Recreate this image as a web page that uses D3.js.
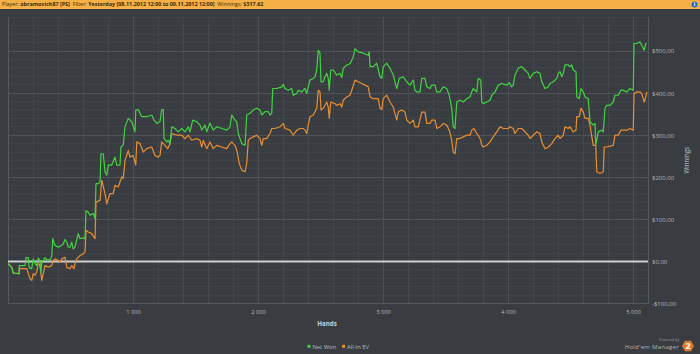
<!DOCTYPE html>
<html lang="en">
<head>
    <meta charset="utf-8">
    <title>Winnings graph</title>
    <script src="https://d3js.org/d3.v7.min.js"></script>
    <style>
      body { margin: 0; background: #393c40; }
      text { font-family: "Open Sans", "DejaVu Sans", sans-serif; }
      .grid line, .frame { shape-rendering: crispEdges; }
    </style>
</head>
<body>
<svg id="chart"></svg>
<script>
    // Net Won: [hand, dollars]
    const netWon = [
        [0, -5], [30, -14], [42, -28], [88, -29], [90, -10], [136, -10], [144, 9], [162, 9], [170, -15], [190, -17],
        [202, 6], [216, -5], [230, -10], [242, 8], [256, 2], [262, -27], [270, -5], [282, 2], [296, 9], [310, 4], [336, 4],
        [350, 12], [358, 54], [376, 38], [402, 34], [430, 38], [442, 42], [456, 52], [470, 46], [482, 34], [496, 34],
        [510, 46], [522, 30], [536, 34], [550, 52], [562, 66], [576, 54], [602, 56], [616, 54], [624, 121], [642, 117],
        [656, 110], [682, 114], [696, 102], [704, 185], [722, 185], [736, 189], [744, 256], [762, 256], [776, 213],
        [790, 205], [802, 229], [830, 229], [856, 248], [870, 229], [896, 229], [904, 272], [922, 276], [936, 320],
        [962, 340], [990, 332], [1016, 308], [1022, 360], [1042, 361], [1070, 344], [1110, 344], [1150, 348], [1168, 336],
        [1190, 328], [1216, 332], [1230, 361], [1242, 361], [1248, 292], [1270, 284], [1282, 288], [1296, 280],
        [1310, 320], [1336, 316], [1362, 308], [1390, 316], [1416, 308], [1442, 320], [1456, 308], [1478, 336],
        [1510, 332], [1536, 324], [1550, 312], [1576, 324], [1590, 308], [1616, 329], [1642, 312], [1670, 320],
        [1710, 316], [1750, 312], [1776, 320], [1790, 348], [1816, 336], [1830, 332], [1842, 304], [1870, 280],
        [1896, 276], [1910, 348], [1936, 352], [1962, 360], [1990, 364], [2016, 360], [2030, 348], [2056, 356],
        [2082, 356], [2096, 348], [2110, 352], [2118, 411], [2150, 411], [2190, 415], [2202, 421], [2216, 411],
        [2242, 407], [2270, 411], [2282, 395], [2310, 399], [2322, 407], [2350, 403], [2362, 407], [2376, 411],
        [2390, 399], [2402, 415], [2416, 431], [2442, 435], [2456, 439], [2470, 455], [2482, 502], [2496, 495],
        [2504, 427], [2522, 427], [2536, 439], [2550, 447], [2562, 435], [2570, 407], [2582, 455], [2602, 455],
        [2630, 443], [2656, 447], [2670, 437], [2682, 459], [2710, 467], [2736, 470], [2762, 486], [2776, 506],
        [2802, 498], [2842, 495], [2882, 490], [2890, 498], [2896, 463], [2922, 463], [2950, 471], [2976, 439],
        [2990, 435], [3002, 463], [3030, 471], [3056, 459], [3082, 443], [3110, 411], [3130, 435], [3162, 439],
        [3190, 427], [3216, 419], [3242, 431], [3256, 407], [3270, 403], [3296, 403], [3310, 435], [3336, 435],
        [3350, 415], [3376, 411], [3390, 419], [3416, 419], [3430, 403], [3456, 403], [3482, 415], [3510, 411],
        [3530, 395], [3550, 364], [3562, 320], [3576, 316], [3590, 379], [3616, 383], [3642, 379], [3670, 387],
        [3696, 391], [3710, 403], [3722, 411], [3750, 403], [3762, 435], [3782, 431], [3790, 379], [3802, 375],
        [3830, 379], [3856, 383], [3870, 395], [3896, 403], [3922, 419], [3950, 423], [3990, 419], [4010, 425],
        [4030, 415], [4042, 419], [4056, 443], [4082, 459], [4110, 463], [4136, 455], [4162, 447], [4176, 435],
        [4202, 447], [4230, 451], [4256, 447], [4270, 427], [4296, 411], [4322, 415], [4336, 423], [4362, 427],
        [4390, 435], [4402, 447], [4416, 451], [4430, 439], [4442, 447], [4456, 467], [4482, 467], [4496, 463],
        [4510, 467], [4522, 455], [4544, 451], [4550, 391], [4570, 387], [4584, 411], [4602, 403], [4616, 391],
        [4642, 387], [4656, 332], [4682, 324], [4696, 328], [4702, 276], [4722, 308], [4750, 312], [4762, 308],
        [4776, 364], [4790, 371], [4816, 371], [4842, 379], [4856, 395], [4882, 395], [4902, 407], [4922, 407],
        [4950, 403], [4976, 411], [5002, 407], [5008, 518], [5030, 518], [5056, 522], [5070, 514], [5090, 502],
        [5102, 518], [5110, 518]
    ];

    // All-In EV: [hand, dollars]
    const allInEV = [
        [0, -5], [30, -14], [42, -28], [88, -29], [90, -17], [150, -17], [176, -41], [190, -45], [202, -29], [216, -33],
        [230, -25], [242, -5], [256, -10], [270, -45], [282, -29], [296, -10], [322, -14], [350, -10], [362, 2],
        [376, 6], [402, 2], [416, -2], [430, 6], [456, 10], [470, -14], [496, -17], [510, -10], [528, -17], [536, -5],
        [550, 6], [576, 14], [602, 18], [616, 22], [624, 74], [642, 70], [670, 66], [696, 54], [704, 141], [736, 145],
        [750, 193], [776, 161], [790, 137], [802, 149], [816, 161], [842, 161], [856, 181], [882, 177], [910, 201],
        [922, 197], [936, 240], [962, 264], [976, 248], [1002, 252], [1022, 229], [1030, 284], [1056, 280],
        [1082, 260], [1110, 268], [1150, 272], [1176, 252], [1202, 248], [1216, 252], [1230, 284], [1256, 276],
        [1278, 268], [1296, 280], [1310, 304], [1350, 300], [1390, 300], [1416, 292], [1442, 300], [1470, 288],
        [1510, 292], [1536, 288], [1550, 272], [1562, 288], [1590, 268], [1616, 284], [1642, 268], [1670, 276],
        [1710, 272], [1750, 268], [1776, 280], [1790, 284], [1816, 276], [1834, 260], [1850, 233], [1870, 217],
        [1896, 213], [1910, 233], [1922, 288], [1936, 292], [1962, 296], [1990, 300], [2016, 292], [2030, 276],
        [2042, 292], [2070, 292], [2096, 304], [2110, 316], [2136, 316], [2176, 320], [2202, 328], [2216, 316],
        [2256, 312], [2282, 300], [2310, 312], [2336, 316], [2362, 316], [2376, 312], [2390, 304], [2402, 324],
        [2416, 344], [2442, 348], [2470, 364], [2482, 407], [2496, 403], [2504, 360], [2522, 364], [2536, 371],
        [2550, 379], [2562, 367], [2570, 340], [2582, 379], [2616, 375], [2630, 371], [2656, 375], [2670, 367],
        [2682, 383], [2710, 391], [2736, 395], [2750, 407], [2776, 431], [2802, 427], [2830, 423], [2856, 419],
        [2882, 415], [2896, 391], [2922, 387], [2962, 387], [2976, 364], [2990, 361], [3002, 387], [3030, 395],
        [3056, 379], [3082, 367], [3110, 336], [3122, 355], [3150, 360], [3176, 355], [3190, 336], [3216, 328],
        [3242, 336], [3256, 320], [3282, 320], [3310, 355], [3336, 355], [3350, 328], [3376, 328], [3390, 336],
        [3416, 336], [3430, 316], [3456, 320], [3482, 328], [3510, 324], [3530, 312], [3550, 288], [3562, 260],
        [3576, 256], [3590, 292], [3616, 292], [3642, 296], [3670, 300], [3696, 300], [3710, 312], [3728, 316],
        [3750, 304], [3762, 300], [3782, 288], [3790, 276], [3802, 272], [3830, 276], [3856, 284], [3882, 296],
        [3910, 308], [3936, 320], [3962, 316], [4002, 316], [4016, 320], [4042, 316], [4056, 304], [4082, 316],
        [4110, 316], [4136, 308], [4162, 300], [4176, 292], [4202, 300], [4230, 308], [4256, 304], [4270, 284],
        [4296, 268], [4322, 272], [4350, 280], [4376, 292], [4402, 300], [4416, 292], [4442, 300], [4456, 320],
        [4482, 316], [4496, 320], [4522, 308], [4544, 312], [4550, 344], [4570, 344], [4584, 364], [4602, 355],
        [4616, 340], [4642, 340], [4656, 324], [4682, 276], [4702, 276], [4710, 213], [4736, 209], [4762, 213],
        [4770, 272], [4790, 272], [4816, 274], [4842, 276], [4856, 300], [4882, 300], [4902, 312], [4922, 312],
        [4950, 312], [4976, 316], [5002, 312], [5008, 399], [5030, 403], [5056, 403], [5070, 399], [5090, 379],
        [5102, 391], [5110, 403]
    ];

    const handTicks = [1000, 2000, 3000, 4000, 5000];
    const winTicks = [-100, 0, 100, 200, 300, 400, 500];
    const seriesNames = ["Net Won", "All-In EV"];
    const seriesColors = ["#42d442", "#e98f33"];

    const W = 700, H = 354;
    const margin = {top: 17, right: 52, bottom: 50.5, left: 8};

    const svg = d3.select("#chart")
        .attr("width", W)
        .attr("height", H);

    svg.append("rect")
        .attr("width", W).attr("height", H)
        .attr("fill", "#393c40");

    // header bar
    svg.append("rect")
        .attr("width", W).attr("height", 9)
        .attr("fill", "#f4b044");
    const header = svg.append("text")
        .attr("x", 2).attr("y", 6.2)
        .style("font-size", "5.4px")
        .attr("fill", "#3b2b12");
    [["Player: ", false], ["abramovich87 [PS]", true], ["  Filter: ", false],
        ["Yesterday [08.11.2012 12:00 to 09.11.2012 12:00]", true], ["  Winnings: ", false], ["$517.62", true]]
        .forEach(p => header.append("tspan")
            .attr("font-weight", p[1] ? "bold" : "normal")
            .attr("xml:space", "preserve")
            .text(p[0]));
    svg.append("circle")
        .attr("cx", 694.5).attr("cy", 4.5).attr("r", 3)
        .attr("fill", "#2a6bc0");
    svg.append("text")
        .attr("x", 694.5).attr("y", 6.3)
        .attr("text-anchor", "middle")
        .style("font-size", "5px").attr("font-weight", "bold")
        .attr("fill", "#fff").text("i");

    const x = d3.scaleLinear()
        .domain([0, 5120])
        .range([margin.left, W - margin.right]);
    const y = d3.scaleLinear()
        .domain([-100, 581])
        .range([H - margin.bottom, margin.top]);

    const grid = svg.append("g").attr("class", "grid");
    const g = svg.append("g");

    // minor grid
    grid.selectAll(".hminor")
        .data(d3.range(-100, 581, 20))
        .join("line")
        .attr("x1", x(0)).attr("x2", x(5120))
        .attr("y1", d => y(d)).attr("y2", d => y(d))
        .attr("stroke", "#404347").attr("stroke-width", 1);
    grid.selectAll(".vminor")
        .data(d3.range(0, 5121, 200))
        .join("line")
        .attr("x1", d => x(d)).attr("x2", d => x(d))
        .attr("y1", y(-100)).attr("y2", y(581))
        .attr("stroke", "#43464a").attr("stroke-width", 1);

    // major grid
    grid.selectAll(".hmajor")
        .data(winTicks)
        .join("line")
        .attr("x1", x(0)).attr("x2", x(5120))
        .attr("y1", d => y(d)).attr("y2", d => y(d))
        .attr("stroke", "#4f5358").attr("stroke-width", 1);
    grid.selectAll(".vmajor")
        .data(handTicks)
        .join("line")
        .attr("x1", d => x(d)).attr("x2", d => x(d))
        .attr("y1", y(-100)).attr("y2", y(581))
        .attr("stroke", "#4c5055").attr("stroke-width", 1);

    // frame
    grid.append("path")
        .attr("class", "frame")
        .attr("d", `M${x(0)},${y(581)}V${y(-100)}H${x(5120)}V${y(581)}`)
        .attr("fill", "none")
        .attr("stroke", "#55595e").attr("stroke-width", 1);

    // axes labels
    svg.append("g")
        .attr("transform", `translate(0,${y(-100)})`)
        .call(d3.axisBottom(x).tickValues(handTicks).tickSize(0).tickPadding(6)
            .tickFormat(d => d3.format(",")(d).replace(",", " ")))
        .call(a => a.select(".domain").remove())
        .call(a => a.selectAll("text")
            .style("font-size", "5.8px")
            .attr("font-family", "\"Open Sans\", sans-serif")
            .attr("fill", "#b4b8bc"));

    svg.append("g")
        .attr("transform", `translate(${x(5120)},0)`)
        .call(d3.axisRight(y).tickValues(winTicks).tickSize(0).tickPadding(4)
            .tickFormat(d => (d < 0 ? "-$" : "$") + Math.abs(d) + ",00"))
        .call(a => a.select(".domain").remove())
        .call(a => a.selectAll("text")
            .style("font-size", "6px")
            .attr("font-family", "\"Open Sans\", sans-serif")
            .attr("fill", "#b4b8bc"));

    svg.append("text")
        .attr("transform", `translate(689,${(y(-100) + y(581)) / 2}) rotate(-90)`)
        .attr("text-anchor", "middle")
        .style("font-size", "6.2px")
        .attr("fill", "#c4c8cc")
        .text("Winnings");

    svg.append("text")
        .attr("x", 327).attr("y", 326)
        .attr("text-anchor", "middle")
        .style("font-size", "6.2px").attr("font-weight", "bold")
        .attr("fill", "#d0d3d6")
        .text("Hands");

    // zero line
    g.append("line")
        .attr("x1", x(0)).attr("x2", x(5120))
        .attr("y1", y(0)).attr("y2", y(0))
        .attr("stroke", "#cfcfcf").attr("stroke-width", 2);

    // series
    const line = d3.line()
        .x(d => x(d[0]))
        .y(d => y(d[1]));

    [allInEV, netWon].forEach((s, i) => {
        g.append("path")
            .datum(s)
            .attr("d", line)
            .attr("fill", "none")
            .attr("stroke", seriesColors[1 - i])
            .attr("stroke-width", 1.2)
            .attr("stroke-linejoin", "round");
    });

    // legend
    const legend = svg.append("g").attr("transform", "translate(307.5,347)");
    let lx = 0;
    seriesNames.forEach((n, i) => {
        legend.append("rect")
            .attr("x", lx).attr("y", -2.2)
            .attr("width", 3).attr("height", 3)
            .attr("fill", seriesColors[i]);
        const t = legend.append("text")
            .attr("x", lx + 5).attr("y", 1.8)
            .style("font-size", "5.8px")
            .attr("fill", "#b8bcc0")
            .text(n);
        lx += 5 + t.node().getComputedTextLength() + 6;
    });

    // powered by logo
    svg.append("text")
        .attr("x", 679).attr("y", 341)
        .attr("text-anchor", "end")
        .style("font-size", "3.6px")
        .attr("fill", "#9a9ea2")
        .text("Powered by");
    svg.append("text")
        .attr("x", 679).attr("y", 348.5)
        .attr("text-anchor", "end")
        .style("font-size", "6px")
        .attr("letter-spacing", "0.3px")
        .attr("fill", "#b2b6ba")
        .text("Hold'em Manager");
    const hex = d3.range(6).map(k => {
        const a = Math.PI / 3 * k;
        return [688 + 6 * Math.cos(a), 346 + 6 * Math.sin(a)];
    });
    svg.append("polygon")
        .attr("points", hex.map(p => p.join(",")).join(" "))
        .attr("fill", "#e0782a");
    svg.append("text")
        .attr("x", 688).attr("y", 349.3)
        .attr("text-anchor", "middle")
        .style("font-size", "9px").attr("font-weight", "bold")
        .attr("fill", "#fff")
        .text("2");
</script>
</body>
</html>
